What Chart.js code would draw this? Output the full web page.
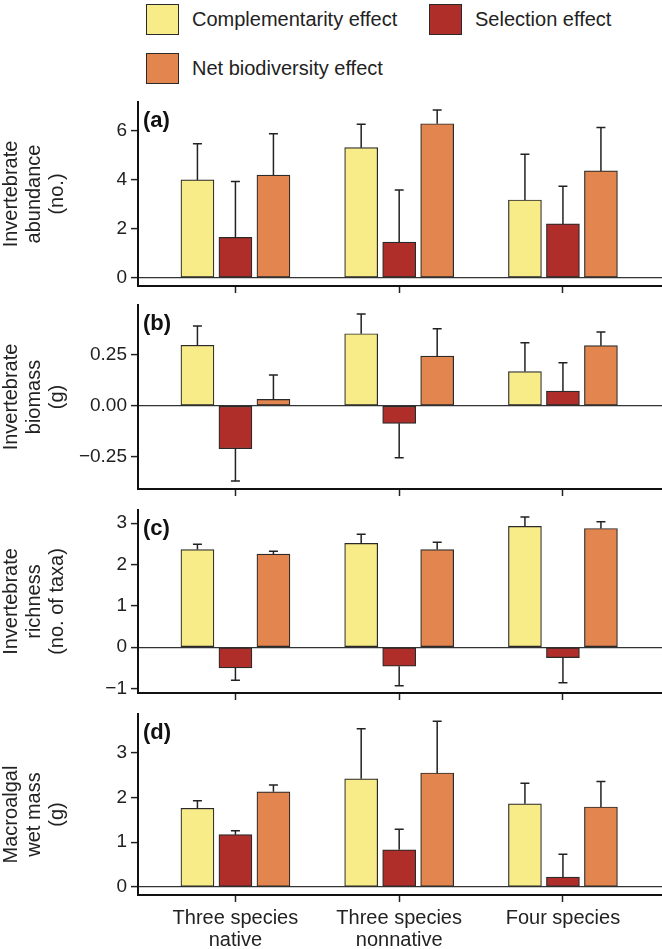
<!DOCTYPE html>
<html>
<head>
<meta charset="utf-8">
<script src="https://cdn.jsdelivr.net/npm/chart.js@4.4.1/dist/chart.umd.min.js"></script>
<style>
  html, body { margin: 0; padding: 0; background: #fff; overflow: hidden; }
  #wrap { position: relative; width: 662px; height: 949px; font-family: "Liberation Sans", Arial, sans-serif; color: #222; }
  .key { position: absolute; display: flex; align-items: center; font-size: 20px; height: 32px; }
  .key span.box { display: inline-block; width: 31px; height: 29px; border: 1.5px solid #2a2a2a; margin-right: 13px; }
  .panel { position: absolute; left: 0; width: 662px; }
</style>
</head>
<body>
<div id="wrap">
  <div class="key" style="left:146px;top:3px"><span class="box" style="background:#f8ec89"></span>Complementarity effect</div>
  <div class="key" style="left:429px;top:3px"><span class="box" style="background:#b02e29"></span>Selection effect</div>
  <div class="key" style="left:146px;top:52px"><span class="box" style="background:#e2854f"></span>Net biodiversity effect</div>
</div>
<script>
const groupLabels = [["Three species", "native"], ["Three species", "nonnative"], ["Four species"]];
const seriesNames = ["Complementarity effect", "Selection effect", "Net biodiversity effect"];
const seriesColors = ["#f8ec89", "#b02e29", "#e2854f"];

// (a) invertebrate abundance
const abundComp = [4.00, 5.32, 3.18];
const abundSel = [1.65, 1.46, 2.20];
const abundNet = [4.20, 6.30, 4.37];
const abundCompSE = [1.48, 0.96, 1.87];
const abundSelSE = [2.29, 2.13, 1.54];
const abundNetSE = [1.69, 0.56, 1.78];

// (b) invertebrate biomass
const biomComp = [0.298, 0.355, 0.168];
const biomSel = [-0.212, -0.087, 0.072];
const biomNet = [0.031, 0.245, 0.296];
const biomCompSE = [0.095, 0.097, 0.143];
const biomSelSE = [0.159, 0.170, 0.140];
const biomNetSE = [0.120, 0.135, 0.067];

// (c) invertebrate richness
const richComp = [2.36, 2.51, 2.92];
const richSel = [-0.50, -0.46, -0.25];
const richNet = [2.25, 2.36, 2.87];
const richCompSE = [0.13, 0.22, 0.23];
const richSelSE = [0.30, 0.47, 0.61];
const richNetSE = [0.07, 0.18, 0.16];

// (d) macroalgal wet mass
const massComp = [1.76, 2.42, 1.86];
const massSel = [1.17, 0.83, 0.22];
const massNet = [2.13, 2.55, 1.79];
const massCompSE = [0.17, 1.12, 0.46];
const massSelSE = [0.09, 0.46, 0.51];
const massNetSE = [0.15, 1.16, 0.57];

const panels = [
  { tag: "(a)", title: ["Invertebrate", "abundance", "(no.)"],
    values: [abundComp, abundSel, abundNet], errors: [abundCompSE, abundSelSE, abundNetSE],
    yMin: -0.34, yMax: 7.19, step: 2, decimals: 0, top: 102, bottom: 286, axisH: 18, showX: false, titleShift: 0 },
  { tag: "(b)", title: ["Invertebrate", "biomass", "(g)"],
    values: [biomComp, biomSel, biomNet], errors: [biomCompSE, biomSelSE, biomNetSE],
    yMin: -0.411, yMax: 0.4966, step: 0.25, decimals: 2, top: 305, bottom: 489, axisH: 18, showX: false, titleShift: 0 },
  { tag: "(c)", title: ["Invertebrate", "richness", "(no. of taxa)"],
    values: [richComp, richSel, richNet], errors: [richCompSE, richSelSE, richNetSE],
    yMin: -1.107, yMax: 3.317, step: 1, decimals: 0, top: 510, bottom: 693, axisH: 18, showX: false, titleShift: 0 },
  { tag: "(d)", title: ["Macroalgal", "wet mass", "(g)"],
    values: [massComp, massSel, massNet], errors: [massCompSE, massSelSE, massNetSE],
    yMin: -0.18, yMax: 3.87, step: 1, decimals: 0, top: 714, bottom: 895, axisH: 54, showX: true, titleShift: 10 }
];

const PAD_TOP = 20;
const FONT = "'Liberation Sans', Arial, sans-serif";

// error bars, one-sided, pointing away from zero
const errorBars = {
  id: "errorBars",
  afterDatasetsDraw(chart) {
    const { ctx, scales: { y } } = chart;
    ctx.save();
    ctx.strokeStyle = "#222";
    ctx.lineWidth = 1.5;
    chart.data.datasets.forEach((ds, di) => {
      chart.getDatasetMeta(di).data.forEach((bar, i) => {
        const v = ds.data[i].y;
        const e = ds.errors[i];
        const tip = y.getPixelForValue(v >= 0 ? v + e : v - e);
        ctx.beginPath();
        ctx.moveTo(bar.x, bar.y);
        ctx.lineTo(bar.x, tip);
        ctx.moveTo(bar.x - 4.5, tip);
        ctx.lineTo(bar.x + 4.5, tip);
        ctx.stroke();
      });
    });
    ctx.restore();
  }
};

// panel tag (a), (b)... and the rotated y title
const panelText = {
  id: "panelText",
  afterDraw(chart) {
    const { ctx, chartArea } = chart;
    const o = chart.options.plugins.panelText;
    ctx.save();
    ctx.font = "bold 22px " + FONT;
    ctx.fillStyle = "#111";
    ctx.textBaseline = "middle";
    ctx.fillText(o.tag, chartArea.left + 5, chartArea.top + 19);
    ctx.restore();

    ctx.save();
    ctx.font = "20px " + FONT;
    ctx.fillStyle = "#222";
    ctx.textAlign = "center";
    ctx.textBaseline = "middle";
    const cy = (chartArea.top + chartArea.bottom) / 2 + o.shift;
    o.title.forEach((line, k) => {
      ctx.save();
      ctx.translate(11.5 + k * 23, cy);
      ctx.rotate(-Math.PI / 2);
      ctx.fillText(line, 0, 0);
      ctx.restore();
    });
    ctx.restore();
  }
};

const wrap = document.getElementById("wrap");

panels.forEach(p => {
  const h = PAD_TOP + (p.bottom - p.top) + p.axisH;
  const div = document.createElement("div");
  div.className = "panel";
  div.style.top = (p.top - PAD_TOP) + "px";
  div.style.height = h + "px";
  const canvas = document.createElement("canvas");
  canvas.width = 662;
  canvas.height = h;
  div.appendChild(canvas);
  wrap.appendChild(div);

  new Chart(canvas, {
    type: "bar",
    data: {
      datasets: seriesNames.map((name, s) => ({
        label: name,
        data: p.values[s].map((v, i) => ({ x: i, y: v })),
        errors: p.errors[s],
        backgroundColor: seriesColors[s],
        borderColor: "#2a2a2a",
        borderWidth: 1.2,
        borderSkipped: false,
        barThickness: 38,
        maxBarThickness: 33
      }))
    },
    options: {
      responsive: false,
      animation: false,
      devicePixelRatio: 1,
      layout: { padding: { top: PAD_TOP, left: 0, right: 0, bottom: 0 } },
      plugins: {
        legend: { display: false },
        tooltip: { enabled: false },
        panelText: { tag: p.tag, title: p.title, shift: p.titleShift }
      },
      scales: {
        x: {
          type: "linear",
          min: -0.595,
          max: 2.605,
          offset: false,
          afterFit: s => { s.height = p.axisH; },
          ticks: {
            display: p.showX,
            stepSize: 1,
            includeBounds: false,
            autoSkip: false,
            maxRotation: 0,
            padding: 5,
            color: "#222",
            font: { family: FONT, size: 20, lineHeight: 1.1 },
            callback: v => groupLabels[v] || ""
          },
          grid: { offset: false, drawOnChartArea: false, drawTicks: true, tickLength: 7, tickColor: "#222", tickWidth: 1.5 },
          border: { display: true, color: "#111", width: 2 }
        },
        y: {
          min: p.yMin,
          max: p.yMax,
          afterFit: s => { s.width = 138; },
          ticks: {
            stepSize: p.step,
            includeBounds: false,
            padding: 4,
            color: "#222",
            font: { family: FONT, size: 19 },
            callback: v => (v < 0 ? "\u2212" : "") + Math.abs(v).toFixed(p.decimals)
          },
          grid: {
            color: c => (c.tick && Math.abs(c.tick.value) < 1e-9) ? "#333" : "rgba(0,0,0,0)",
            lineWidth: 1.2,
            drawTicks: true,
            tickLength: 7,
            tickColor: "#222",
            tickWidth: 1.5
          },
          border: { display: true, color: "#111", width: 2 }
        }
      }
    },
    plugins: [errorBars, panelText]
  });
});
</script>
</body>
</html>
